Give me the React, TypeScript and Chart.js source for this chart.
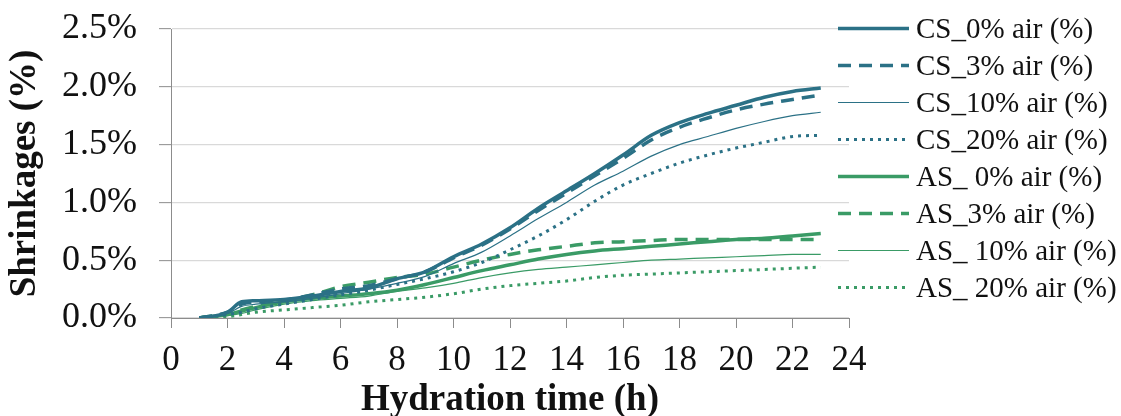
import React, { useEffect, useRef } from 'react';
import { Chart, registerables } from 'chart.js';

Chart.register(...registerables);

// Hydration time (h)
const HOURS = [1, 2, 2.5, 3, 4, 5, 6, 7, 8, 9, 10, 11, 12, 13, 14, 15, 16, 17, 18, 19, 20, 21, 22, 23];

// Shrinkage (%) series
const CS_0 = [0, 0.05, 0.14, 0.15, 0.16, 0.19, 0.23, 0.26, 0.34, 0.4, 0.53, 0.64, 0.78, 0.95, 1.1, 1.25, 1.41, 1.58, 1.69, 1.77, 1.84, 1.91, 1.96, 1.99];
const CS_3 = [0, 0.05, 0.12, 0.14, 0.155, 0.2, 0.25, 0.28, 0.34, 0.4, 0.52, 0.63, 0.77, 0.93, 1.08, 1.23, 1.38, 1.54, 1.65, 1.73, 1.8, 1.85, 1.89, 1.93];
const CS_10 = [0, 0.04, 0.1, 0.12, 0.14, 0.17, 0.21, 0.25, 0.3, 0.36, 0.47, 0.57, 0.71, 0.86, 1.0, 1.15, 1.27, 1.4, 1.5, 1.57, 1.64, 1.7, 1.75, 1.78];
const CS_20 = [0, 0.03, 0.05, 0.08, 0.12, 0.16, 0.2, 0.24, 0.29, 0.34, 0.4, 0.48, 0.59, 0.71, 0.85, 1.01, 1.15, 1.25, 1.34, 1.41, 1.47, 1.52, 1.57, 1.58];
const AS_0 = [0, 0.03, 0.06, 0.09, 0.14, 0.17, 0.19, 0.21, 0.24, 0.29, 0.35, 0.41, 0.46, 0.51, 0.55, 0.58, 0.6, 0.62, 0.64, 0.66, 0.68, 0.69, 0.71, 0.73];
const AS_3 = [0, 0.04, 0.07, 0.1, 0.15, 0.2, 0.27, 0.31, 0.35, 0.38, 0.44, 0.5, 0.55, 0.59, 0.62, 0.65, 0.66, 0.67, 0.68, 0.68, 0.68, 0.68, 0.68, 0.68];
const AS_10 = [0, 0.02, 0.04, 0.07, 0.12, 0.15, 0.17, 0.19, 0.23, 0.26, 0.3, 0.35, 0.39, 0.42, 0.44, 0.46, 0.48, 0.5, 0.51, 0.52, 0.53, 0.54, 0.55, 0.55];
const AS_20 = [0, 0.01, 0.03, 0.05, 0.07, 0.09, 0.11, 0.14, 0.16, 0.18, 0.21, 0.25, 0.28, 0.3, 0.32, 0.35, 0.37, 0.38, 0.39, 0.4, 0.41, 0.42, 0.43, 0.44];

const SERIES_LABELS = [
  'CS_0% air (%)',
  'CS_3% air (%)',
  'CS_10% air (%)',
  'CS_20% air (%)',
  'AS_ 0% air (%)',
  'AS_3% air (%)',
  'AS_ 10% air (%)',
  'AS_ 20% air (%)',
];
const SERIES_VALUES = [CS_0, CS_3, CS_10, CS_20, AS_0, AS_3, AS_10, AS_20];

const Y_TICK_STEP = 0.5;
const X_TICK_STEP = 2;
const X_TITLE = 'Hydration time (h)';
const Y_TITLE = 'Shrinkages (%)';

const TEAL = '#2b7186';
const GREEN = '#3a9b66';
const FONT = '"Liberation Serif", "Times New Roman", serif';

const STYLES = [
  { color: TEAL, width: 3.5, dash: [] as number[] },
  { color: TEAL, width: 3.5, dash: [13, 8] },
  { color: TEAL, width: 1.2, dash: [] as number[] },
  { color: TEAL, width: 3, dash: [3, 5] },
  { color: GREEN, width: 3.5, dash: [] as number[] },
  { color: GREEN, width: 3.5, dash: [13, 8] },
  { color: GREEN, width: 1.2, dash: [] as number[] },
  { color: GREEN, width: 3, dash: [3, 5] },
];

const sideLegend = {
  id: 'sideLegend',
  afterDraw(chart: any) {
    const ctx = chart.ctx as CanvasRenderingContext2D;
    ctx.save();
    chart.data.datasets.forEach((ds: any, i: number) => {
      const y = 28.5 + i * 37;
      ctx.beginPath();
      ctx.strokeStyle = ds.borderColor;
      ctx.lineWidth = ds.borderWidth;
      ctx.setLineDash(ds.borderDash || []);
      ctx.moveTo(838, y);
      ctx.lineTo(909, y);
      ctx.stroke();
      ctx.setLineDash([]);
      ctx.fillStyle = '#111';
      ctx.font = `29px ${FONT}`;
      ctx.textBaseline = 'alphabetic';
      ctx.textAlign = 'left';
      ctx.fillText(ds.label, 916, y + 9.5);
    });
    ctx.restore();
  },
};

export default function App() {
  const canvasRef = useRef<HTMLCanvasElement | null>(null);

  useEffect(() => {
    document.body.style.margin = '0';
    document.body.style.overflow = 'hidden';
    const canvas = canvasRef.current;
    if (!canvas) return;

    const datasets = SERIES_VALUES.map((vals, i) => ({
      label: SERIES_LABELS[i],
      data: HOURS.map((h, j) => ({ x: h, y: vals[j] })),
      borderColor: STYLES[i].color,
      backgroundColor: STYLES[i].color,
      borderWidth: STYLES[i].width,
      borderDash: STYLES[i].dash,
      pointRadius: 0,
      cubicInterpolationMode: 'monotone' as const,
      fill: false,
    }));

    const chart = new Chart(canvas, {
      type: 'line',
      data: { datasets },
      options: {
        responsive: false,
        animation: false,
        layout: { padding: { top: 29, right: 272, left: 0, bottom: 0 } },
        plugins: {
          legend: { display: false },
          tooltip: { enabled: false },
        },
        scales: {
          x: {
            type: 'linear',
            min: 0,
            max: 24,
            ticks: {
              stepSize: X_TICK_STEP,
              color: '#111',
              font: { family: FONT, size: 35 },
              padding: 12,
              maxRotation: 0,
              autoSkip: false,
            },
            grid: {
              drawOnChartArea: false,
              drawTicks: true,
              tickLength: 10,
              tickColor: '#8c8c8c',
              tickWidth: 1,
            },
            border: { color: '#8c8c8c', width: 1 },
            title: {
              display: true,
              text: X_TITLE,
              color: '#111',
              font: { family: FONT, size: 37, weight: 'bold', lineHeight: 0.85 },
              padding: { top: 0, bottom: 0 },
            },
            afterFit: (s: any) => {
              s.height = 98;
              s.paddingLeft = 0;
              s.paddingRight = 0;
            },
          },
          y: {
            type: 'linear',
            min: 0,
            max: 2.5,
            ticks: {
              stepSize: Y_TICK_STEP,
              color: '#111',
              font: { family: FONT, size: 36 },
              padding: 22,
              callback: (v: any) => Number(v).toFixed(1) + '%',
            },
            grid: {
              color: '#d9d9d9',
              lineWidth: 1.3,
              tickLength: 12,
              tickColor: '#8c8c8c',
              tickWidth: 1,
            },
            border: { color: '#8c8c8c', width: 1 },
            title: {
              display: true,
              text: Y_TITLE,
              color: '#111',
              font: { family: FONT, size: 37, weight: 'bold' },
              padding: { top: 3, bottom: 0 },
            },
            afterFit: (s: any) => {
              s.width = 171;
              s.paddingTop = 0;
              s.paddingBottom = 0;
            },
          },
        },
      },
      plugins: [sideLegend],
    });

    return () => chart.destroy();
  }, []);

  return (
    <div style={{ width: 1121, height: 416 }}>
      <canvas ref={canvasRef} width={1121} height={416} style={{ display: 'block' }} />
    </div>
  );
}
